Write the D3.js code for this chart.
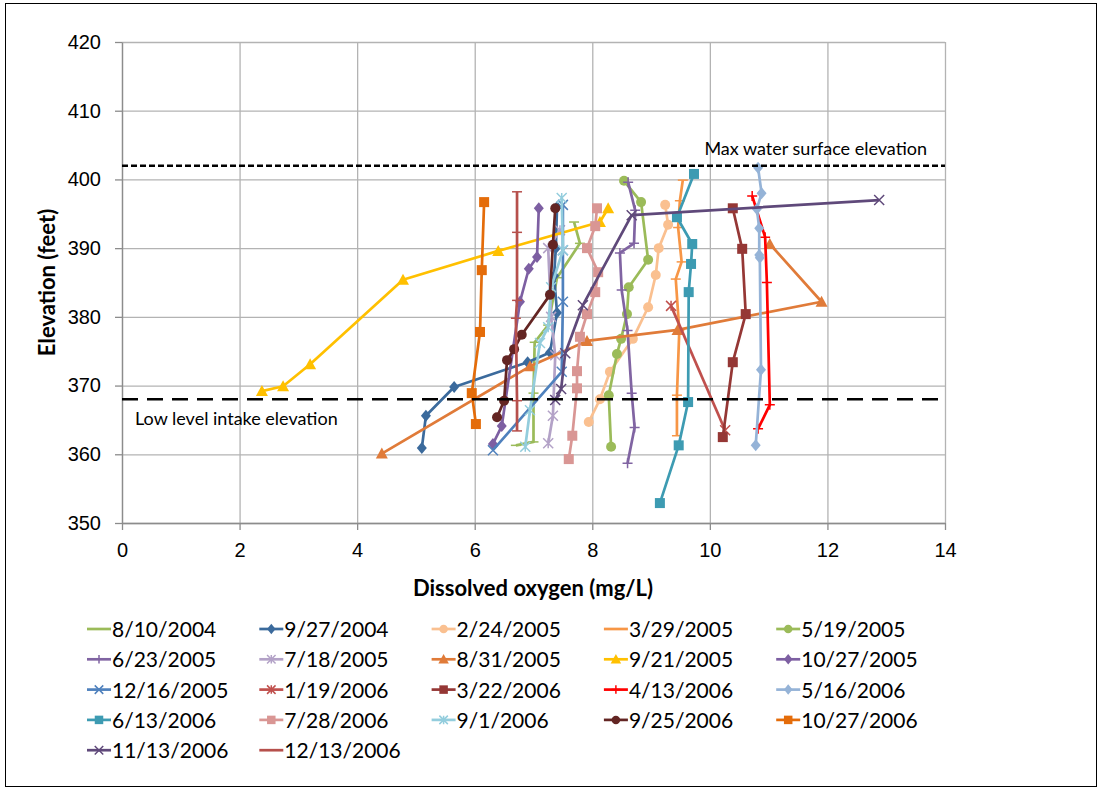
<!DOCTYPE html>
<html>
<head>
<meta charset="utf-8">
<script src="https://cdn.jsdelivr.net/npm/d3@7"></script>
<style>
	body { margin: 0; background: #fff; }
	svg { display: block; font-family: Lato, "Noto Sans", sans-serif; }
	.grid line { stroke: #b3b3b3; stroke-width: 1.3; }
	.grid path { display: none; }
	.axis path, .axis line { stroke: #8c8c8c; stroke-width: 1.3; }
	.axis text { font-size: 20px; fill: #000; }
</style>
</head>
<body>
<div id="chart"></div>
<script>

// data
const seriesNames = [
	"8/10/2004", "9/27/2004", "2/24/2005", "3/29/2005", "5/19/2005",
	"6/23/2005", "7/18/2005", "8/31/2005", "9/21/2005", "10/27/2005",
	"12/16/2005", "1/19/2006", "3/22/2006", "4/13/2006", "5/16/2006",
	"6/13/2006", "7/28/2006", "9/1/2006", "9/25/2006", "10/27/2006",
	"11/13/2006", "12/13/2006"
];

// dissolved oxygen (mg/L), one list per series
const seriesDO = [
	[6.7, 7.0, 7.0, 7.02, 7.25, 7.4, 7.79, 7.69],
	[5.1, 5.17, 5.65, 6.9, 7.28, 7.4, 7.35, 7.38, 7.4],
	[7.94, 8.13, 8.3, 8.69, 8.95, 9.08, 9.13, 9.29, 9.24],
	[9.44, 9.44, 9.48, 9.42, 9.52, 9.46, 9.49, 9.54],
	[8.32, 8.28, 8.42, 8.49, 8.59, 8.62, 8.95, 8.83, 8.54],
	[8.6, 8.72, 8.67, 8.6, 8.5, 8.47, 8.71, 8.73, 8.61],
	[7.25, 7.33, 7.37, 7.3, 7.25, 7.45],
	[4.42, 6.94, 7.91, 9.45, 11.9, 11.02],
	[2.38, 2.74, 3.2, 4.78, 6.4, 8.13, 8.27],
	[6.31, 6.46, 6.77, 6.92, 7.06, 7.09],
	[6.31, 7.48, 7.5, 7.5, 7.5],
	[10.26, 9.34],
	[10.22, 10.39, 10.61, 10.55, 10.39],
	[10.82, 11.02, 10.97, 10.94, 10.72],
	[10.78, 10.87, 10.85, 10.84, 10.84, 10.8, 10.88, 10.82],
	[9.15, 9.47, 9.63, 9.64, 9.68, 9.7, 9.44, 9.73],
	[7.6, 7.66, 7.74, 7.74, 7.79, 7.91, 8.05, 8.1, 7.91, 8.05, 8.08],
	[6.86, 6.94, 7.11, 7.25, 7.3, 7.5, 7.48],
	[6.38, 6.5, 6.55, 6.67, 6.8, 7.28, 7.33, 7.37],
	[6.02, 5.95, 6.09, 6.12, 6.16],
	[7.37, 7.47, 7.54, 7.84, 8.67, 12.88],
	[6.72, 6.72, 6.7, 6.72, 6.72, 6.72]
];

// elevation (feet), matching the lists above
const seriesElev = [
	[361.3, 361.8, 368.9, 376.3, 378.8, 385.7, 390.7, 393.8],
	[360.9, 365.6, 369.8, 373.4, 374.8, 380.6, 386.0, 390.0, 396.0],
	[364.7, 368.0, 372.0, 376.8, 381.4, 386.1, 390.0, 393.4, 396.3],
	[362.7, 368.6, 378.0, 385.5, 388.0, 393.0, 396.9, 399.9],
	[361.1, 368.6, 374.6, 376.8, 380.4, 384.3, 388.3, 396.7, 399.8],
	[358.7, 363.9, 368.9, 378.0, 383.9, 389.3, 390.7, 395.5, 399.6],
	[361.6, 365.6, 374.4, 380.0, 390.0, 392.6],
	[360.1, 372.8, 376.5, 378.1, 382.2, 390.6],
	[369.2, 369.9, 373.1, 385.4, 389.6, 393.8, 395.8],
	[361.5, 364.1, 382.2, 387.0, 388.7, 395.8],
	[360.6, 372.0, 382.2, 389.7, 396.3],
	[363.5, 381.6],
	[362.5, 373.4, 380.4, 389.9, 395.8],
	[363.7, 367.2, 385.0, 391.6, 397.6],
	[361.3, 372.3, 388.6, 389.0, 392.9, 395.7, 398.0, 401.7],
	[352.9, 361.3, 367.6, 383.6, 387.7, 390.6, 394.5, 400.8],
	[359.3, 362.7, 369.6, 372.1, 377.1, 380.4, 383.6, 386.5, 390.0, 393.2, 395.8],
	[361.1, 366.4, 376.2, 378.5, 384.3, 389.7, 397.3],
	[365.4, 367.8, 373.7, 375.3, 377.4, 383.2, 390.5, 395.8],
	[364.4, 368.9, 377.8, 386.8, 396.7],
	[367.9, 369.5, 374.7, 381.7, 394.8, 397.0],
	[363.4, 367.8, 379.8, 382.4, 392.3, 398.2]
];

const xTicks = [0, 2, 4, 6, 8, 10, 12, 14];
const yTicks = [350, 360, 370, 380, 390, 400, 410, 420];

const refNames = ["Max water surface elevation", "Low level intake elevation"];
const refElev = [402, 368];

// styles
const seriesColors = [
	"#9BBB59", "#3B6A9C", "#FAC090", "#F79646", "#9BBB59",
	"#8064A2", "#B3A2C7", "#E07B39", "#FFC000", "#7D5FA2",
	"#4F81BD", "#C0504D", "#953735", "#FF0000", "#95B3D7",
	"#3D9BB2", "#D99694", "#93CDDD", "#632523", "#E46C0A",
	"#5F497A", "#B6504C"
];
const seriesMarkers = [
	"dash", "diamond", "circle", "dash", "circle",
	"plus", "star", "triangle", "triangle", "diamond",
	"x", "star", "square", "plus", "diamond",
	"square", "square", "star", "circle", "square",
	"x", "dash"
];

const W = 1099, H = 790;
const x = d3.scaleLinear().domain([0, 14]).range([122, 945]);
const y = d3.scaleLinear().domain([350, 420]).range([523, 42]);

const svg = d3.select("#chart")
	.append("svg")
	.attr("width", W)
	.attr("height", H);

// chart border
svg.append("rect")
	.attr("x", 5.5)
	.attr("y", 3.5)
	.attr("width", W - 8)
	.attr("height", H - 7)
	.attr("fill", "#fff")
	.attr("stroke", "#000")
	.attr("stroke-width", 1);

// grid
svg.append("g")
	.attr("class", "grid")
	.attr("transform", "translate(0," + y(350) + ")")
	.call(d3.axisBottom(x).tickValues(xTicks).tickSize(y(420) - y(350)).tickFormat(""));

svg.append("g")
	.attr("class", "grid")
	.attr("transform", "translate(" + x(0) + ",0)")
	.call(d3.axisLeft(y).tickValues(yTicks).tickSize(x(0) - x(14)).tickFormat(""));

// axes
svg.append("g")
	.attr("class", "axis")
	.attr("transform", "translate(0," + y(350) + ")")
	.call(d3.axisBottom(x).tickValues(xTicks).tickSize(7).tickPadding(13).tickSizeOuter(0));

svg.append("g")
	.attr("class", "axis")
	.attr("transform", "translate(" + x(0) + ",0)")
	.call(d3.axisLeft(y).tickValues(yTicks).tickSize(7).tickPadding(14).tickSizeOuter(0));

svg.selectAll(".axis .domain").attr("stroke", "#8c8c8c");

// axis titles
svg.append("text")
	.attr("transform", "translate(55," + ((y(350) + y(420)) / 2) + ") rotate(-90)")
	.attr("text-anchor", "middle")
	.attr("font-size", 22)
	.attr("font-weight", "bold")
	.text("Elevation (feet)");

svg.append("text")
	.attr("x", 533)
	.attr("y", 596)
	.attr("text-anchor", "middle")
	.attr("font-size", 22)
	.attr("font-weight", "bold")
	.text("Dissolved oxygen (mg/L)");

// series
const line = d3.line()
	.x(function(d) { return x(d[0]); })
	.y(function(d) { return y(d[1]); });

const seriesData = seriesNames.map(function(name, i) {
	return {
		name: name,
		color: seriesColors[i],
		marker: seriesMarkers[i],
		points: seriesDO[i].map(function(v, j) { return [v, seriesElev[i][j]]; })
	};
});

const gSeries = svg.append("g")
	.attr("class", "series")
	.selectAll("g")
	.data(seriesData)
	.join("g");

gSeries.append("path")
	.attr("fill", "none")
	.attr("stroke", function(d) { return d.color; })
	.attr("stroke-width", 2.7)
	.attr("stroke-linejoin", "round")
	.attr("d", function(d) { return line(d.points); });

gSeries.each(function(d) {
	const g = d3.select(this);
	d.points.forEach(function(p) {
		drawMarker(g, d.marker, d.color, x(p[0]), y(p[1]), 1);
	});
});

// reference lines
svg.append("line")
	.attr("x1", x(0)).attr("x2", x(14))
	.attr("y1", y(refElev[0])).attr("y2", y(refElev[0]))
	.attr("stroke", "#000")
	.attr("stroke-width", 2.5)
	.attr("stroke-dasharray", "6,3");

svg.append("line")
	.attr("x1", x(0)).attr("x2", x(14))
	.attr("y1", y(refElev[1])).attr("y2", y(refElev[1]))
	.attr("stroke", "#000")
	.attr("stroke-width", 2.5)
	.attr("stroke-dasharray", "16,9");

svg.append("text")
	.attr("x", 927)
	.attr("y", y(refElev[0]) - 11)
	.attr("text-anchor", "end")
	.attr("font-size", 18)
	.text(refNames[0]);

svg.append("text")
	.attr("x", 135)
	.attr("y", y(refElev[1]) + 26)
	.attr("font-size", 18)
	.text(refNames[1]);

// legend
const legend = svg.append("g")
	.attr("class", "legend")
	.selectAll("g")
	.data(seriesData)
	.join("g")
	.attr("transform", function(d, i) {
		return "translate(" + (87 + (i % 5) * 172.3) + "," + (629 + Math.floor(i / 5) * 30.3) + ")";
	});

legend.append("line")
	.attr("x1", 0).attr("x2", 24)
	.attr("stroke", function(d) { return d.color; })
	.attr("stroke-width", 2.7);

legend.each(function(d) {
	drawMarker(d3.select(this), d.marker, d.color, 12, 0, 0.85);
});

legend.append("text")
	.attr("x", 25)
	.attr("y", 8)
	.attr("font-size", 21)
	.text(function(d) { return d.name; });

function drawMarker(g, type, color, cx, cy, k){
	const r = 5 * k;
	if( type === "circle" ){
		g.append("circle")
			.attr("cx", cx).attr("cy", cy).attr("r", r)
			.attr("fill", color);
	}
	else if( type === "square" ){
		g.append("rect")
			.attr("x", cx - r).attr("y", cy - r)
			.attr("width", 2 * r).attr("height", 2 * r)
			.attr("fill", color);
	}
	else if( type === "diamond" ){
		g.append("path")
			.attr("d", "M" + cx + "," + (cy - r - 1) + "L" + (cx + r) + "," + cy +
				"L" + cx + "," + (cy + r + 1) + "L" + (cx - r) + "," + cy + "Z")
			.attr("fill", color);
	}
	else if( type === "triangle" ){
		g.append("path")
			.attr("d", "M" + cx + "," + (cy - r - 1) + "L" + (cx + r + 1) + "," + (cy + r) +
				"L" + (cx - r - 1) + "," + (cy + r) + "Z")
			.attr("fill", color);
	}
	else {
		let d = "";
		if( type === "plus" || type === "star" ){
			d += "M" + cx + "," + (cy - r) + "V" + (cy + r);
		}
		if( type === "plus" || type === "dash" ){
			d += "M" + (cx - r) + "," + cy + "H" + (cx + r);
		}
		if( type === "x" || type === "star" ){
			d += "M" + (cx - r) + "," + (cy - r) + "L" + (cx + r) + "," + (cy + r) +
				"M" + (cx - r) + "," + (cy + r) + "L" + (cx + r) + "," + (cy - r);
		}
		g.append("path")
			.attr("d", d)
			.attr("fill", "none")
			.attr("stroke", color)
			.attr("stroke-width", 1.5);
	}
}

</script>
</body>
</html>
